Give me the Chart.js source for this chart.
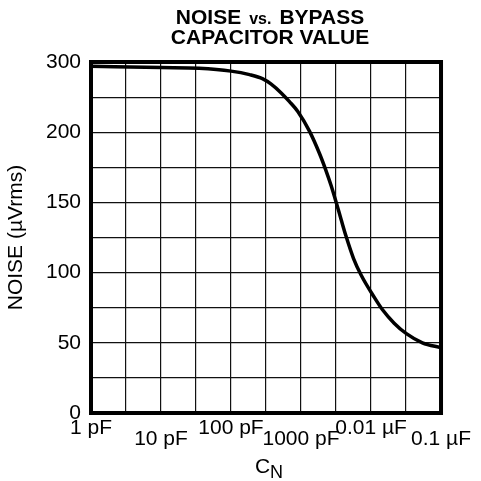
<!DOCTYPE html>
<html>
<head>
<meta charset="utf-8">
<script src="https://cdn.jsdelivr.net/npm/chart.js@4.4.1/dist/chart.umd.min.js"></script>
<style>
  body { margin: 0; background: #fff; }
</style>
</head>
<body>
<canvas id="noiseChart" width="481" height="481"></canvas>
<script>
// noise vs. bypass capacitor value

const capacitancePF = [1, 10, 35, 100, 184, 285, 375, 521, 684, 900, 1320, 1830, 2280, 2690, 3160, 3730, 4390, 5630, 7180, 11100, 14600, 21400, 32000, 54200, 100000];
const noiseUVrms = [294, 292, 291, 287, 282, 276, 268.5, 256, 243.5, 229.5, 201.5, 185, 172.5, 162, 150.5, 138, 126, 110, 98.5, 82.5, 73.5, 64, 56.5, 50, 46.5];

// grid lines every half decade, labels on the decades
const xGridPF = [1, 3.162, 10, 31.62, 100, 316.2, 1000, 3162, 10000, 31623, 100000];
const xTickLabels = ['1 pF', '', '10 pF', '', '100 pF', '', '1000 pF', '', '0.01 µF', '', '0.1 µF'];

// the top two divisions are 50 each, the rest 25
const yGridValues = [0, 25, 50, 75, 100, 125, 150, 175, 200, 250, 300];
const yTickLabels = ['0', '', '50', '', '100', '', '150', '', '200', '', '300'];

const FONT = "'Liberation Sans', Arial, sans-serif";

// linear scale where every grid division gets the same height
class DivisionScale extends Chart.LinearScale {
    static id = 'division';
    static defaults = Chart.LinearScale.defaults;

    getPixelForValue(value) {
        const n = yGridValues.length - 1;
        let i = 0;
        while (i < n - 1 && value > yGridValues[i + 1]) i++;
        const frac = (value - yGridValues[i]) / (yGridValues[i + 1] - yGridValues[i]);
        return this.getPixelForDecimal((i + frac) / n);
    }

    getValueForPixel(pixel) {
        const n = yGridValues.length - 1;
        const d = this.getDecimalForPixel(pixel) * n;
        const i = Math.max(0, Math.min(n - 1, Math.floor(d)));
        return yGridValues[i] + (d - i) * (yGridValues[i + 1] - yGridValues[i]);
    }
}
Chart.register(DivisionScale);

const frameAndText = {
    id: 'frameAndText',
    afterDraw(chart) {
        const { ctx, chartArea } = chart;
        ctx.save();
        ctx.strokeStyle = '#000';
        ctx.lineWidth = 4;
        ctx.strokeRect(chartArea.left, chartArea.top, chartArea.right - chartArea.left, chartArea.bottom - chartArea.top);

        // title, "vs." a little smaller
        ctx.fillStyle = '#000';
        ctx.textBaseline = 'alphabetic';
        ctx.textAlign = 'left';
        const big = 'bold 21px ' + FONT;
        const small = 'bold 16px ' + FONT;
        const parts = [['NOISE', big], ['vs.', small], ['BYPASS', big]];
        const gap = 8;
        let total = 0;
        parts.forEach(p => { ctx.font = p[1]; total += ctx.measureText(p[0]).width; });
        total += gap * (parts.length - 1);
        let x = 270 - total / 2;
        parts.forEach(p => {
            ctx.font = p[1];
            ctx.fillText(p[0], x, 24);
            x += ctx.measureText(p[0]).width + gap;
        });
        ctx.font = big;
        ctx.textAlign = 'center';
        ctx.fillText('CAPACITOR VALUE', 270, 44);

        // x axis name C with subscript N
        ctx.textAlign = 'left';
        ctx.font = '21px ' + FONT;
        const cw = ctx.measureText('C').width;
        ctx.font = '18px ' + FONT;
        const nw = ctx.measureText('N').width;
        const cx = 269 - (cw + nw) / 2;
        ctx.font = '21px ' + FONT;
        ctx.fillText('C', cx, 473);
        ctx.font = '18px ' + FONT;
        ctx.fillText('N', cx + cw, 478);
        ctx.restore();
    }
};

new Chart(document.getElementById('noiseChart'), {
    type: 'line',
    data: {
        datasets: [{
            data: capacitancePF.map((c, i) => ({ x: c, y: noiseUVrms[i] })),
            borderColor: '#000',
            borderWidth: 3.5,
            pointRadius: 0,
            cubicInterpolationMode: 'monotone',
            fill: false
        }]
    },
    options: {
        responsive: false,
        animation: false,
        layout: { padding: { top: 62, right: 39, left: 0, bottom: 0 } },
        plugins: {
            legend: { display: false },
            tooltip: { enabled: false }
        },
        scales: {
            x: {
                type: 'logarithmic',
                min: 1,
                max: 100000,
                afterBuildTicks: axis => {
                    axis.ticks = xGridPF.map(v => ({ value: v }));
                },
                afterFit: axis => { axis.height = 68; },
                border: { display: false },
                grid: { color: '#111', lineWidth: 1.2, drawTicks: false },
                ticks: {
                    autoSkip: false,
                    maxRotation: 0,
                    minRotation: 0,
                    padding: 10,
                    color: '#000',
                    font: { family: FONT, size: 21, lineHeight: 0.5 },
                    callback: (value, index) => {
                        const label = xTickLabels[index];
                        return (index / 2) % 2 ? ['', label] : label;
                    }
                }
            },
            y: {
                type: 'division',
                min: 0,
                max: 300,
                afterBuildTicks: axis => {
                    axis.ticks = yGridValues.map(v => ({ value: v }));
                },
                afterFit: axis => { axis.width = 91; },
                border: { display: false },
                grid: { color: '#111', lineWidth: 1.2, drawTicks: false },
                title: {
                    display: true,
                    text: 'NOISE (µVrms)',
                    color: '#000',
                    font: { family: FONT, size: 21 },
                    padding: { top: 4, bottom: 0 }
                },
                ticks: {
                    padding: 10,
                    color: '#000',
                    font: { family: FONT, size: 21 },
                    callback: (value, index) => yTickLabels[index]
                }
            }
        }
    },
    plugins: [frameAndText]
});
</script>
</body>
</html>
